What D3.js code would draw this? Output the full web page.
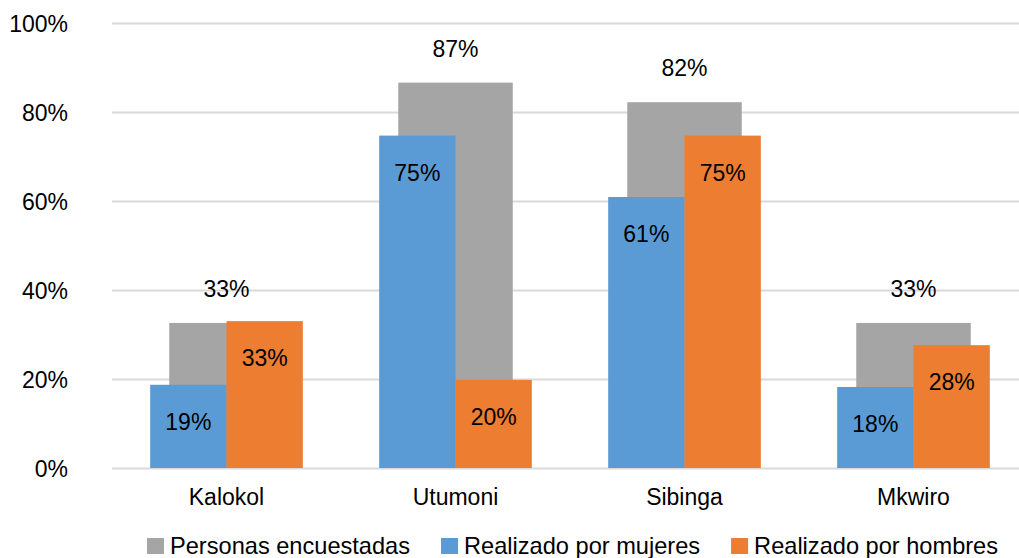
<!DOCTYPE html>
<html>
<head>
<meta charset="utf-8">
<script src="https://cdn.jsdelivr.net/npm/d3@7"></script>
<style>
  body { margin: 0; background: #fff; }
  svg { display: block; font-family: "Liberation Sans", Arial, sans-serif; }
  .grid line { stroke: #d9d9d9; stroke-width: 2; }
  .grid text { font-size: 23px; fill: #000; }
</style>
</head>
<body>
<div id="chart"></div>
<script>
"use strict";

let categories = ['Kalokol', 'Utumoni', 'Sibinga', 'Mkwiro'];
let encuestadas = [0.326, 0.866, 0.822, 0.326];
let mujeres = [0.187, 0.747, 0.609, 0.182];
let hombres = [0.33, 0.198, 0.747, 0.276];
let yTicks = [0, 0.2, 0.4, 0.6, 0.8, 1];
let seriesNames = ['Personas encuestadas', 'Realizado por mujeres', 'Realizado por hombres'];
let colors = ['#a5a5a5', '#5b9bd5', '#ed7d31'];

let width = 1019;
let height = 558;
let plot = { left: 112, right: 1028, top: 23, bottom: 468 };

let fmt = d3.format('.0%');

let svg = d3.select('#chart')
  .append('svg')
  .attr('width', width)
  .attr('height', height);

let x = d3.scaleBand()
  .domain(categories)
  .range([plot.left, plot.right])
  .padding(0);

let y = d3.scaleLinear()
  .domain([0, 1])
  .range([plot.bottom, plot.top]);

// grid + y labels
svg.append('g')
  .attr('class', 'grid')
  .attr('transform', 'translate(' + plot.left + ',0)')
  .call(d3.axisLeft(y)
    .tickValues(yTicks)
    .tickFormat(fmt)
    .tickSize(-(plot.right - plot.left))
    .tickPadding(44))
  .call(g => g.select('.domain').remove())
  .call(g => g.selectAll('text').attr('dy', '0.35em'));

let bw = x.bandwidth();
let center = c => x(c) + bw / 2;

// gray background series
svg.append('g').selectAll('rect')
  .data(categories)
  .join('rect')
  .attr('x', c => center(c) - bw / 4)
  .attr('width', bw / 2)
  .attr('y', (c, i) => y(encuestadas[i]))
  .attr('height', (c, i) => plot.bottom - y(encuestadas[i]))
  .attr('fill', colors[0]);

svg.append('g').selectAll('rect')
  .data(categories)
  .join('rect')
  .attr('x', c => center(c) - bw / 3)
  .attr('width', bw / 3)
  .attr('y', (c, i) => y(mujeres[i]))
  .attr('height', (c, i) => plot.bottom - y(mujeres[i]))
  .attr('fill', colors[1]);

svg.append('g').selectAll('rect')
  .data(categories)
  .join('rect')
  .attr('x', c => center(c))
  .attr('width', bw / 3)
  .attr('y', (c, i) => y(hombres[i]))
  .attr('height', (c, i) => plot.bottom - y(hombres[i]))
  .attr('fill', colors[2]);

// value labels
let labels = svg.append('g')
  .attr('font-size', 23)
  .attr('text-anchor', 'middle')
  .attr('fill', '#000');

labels.selectAll('text.enc')
  .data(categories)
  .join('text')
  .attr('class', 'enc')
  .attr('x', c => center(c))
  .attr('y', (c, i) => y(encuestadas[i]) - 26)
  .text((c, i) => fmt(encuestadas[i]));

labels.selectAll('text.muj')
  .data(categories)
  .join('text')
  .attr('class', 'muj')
  .attr('x', c => center(c) - bw / 6)
  .attr('y', (c, i) => y(mujeres[i]) + 45)
  .text((c, i) => fmt(mujeres[i]));

labels.selectAll('text.hom')
  .data(categories)
  .join('text')
  .attr('class', 'hom')
  .attr('x', c => center(c) + bw / 6)
  .attr('y', (c, i) => y(hombres[i]) + 45)
  .text((c, i) => fmt(hombres[i]));

// category labels
svg.append('g').selectAll('text')
  .data(categories)
  .join('text')
  .attr('x', c => center(c))
  .attr('y', 505)
  .attr('text-anchor', 'middle')
  .attr('font-size', 23)
  .text(c => c);

// legend
let legend = svg.append('g');
let lx = 147;
seriesNames.forEach((name, i) => {
  legend.append('rect')
    .attr('x', lx)
    .attr('y', 538)
    .attr('width', 17)
    .attr('height', 16)
    .attr('fill', colors[i]);
  let t = legend.append('text')
    .attr('x', lx + 23)
    .attr('y', 554)
    .attr('font-size', 23.6)
    .text(name);
  lx += 23 + t.node().getComputedTextLength() + 31;
});
</script>
</body>
</html>
